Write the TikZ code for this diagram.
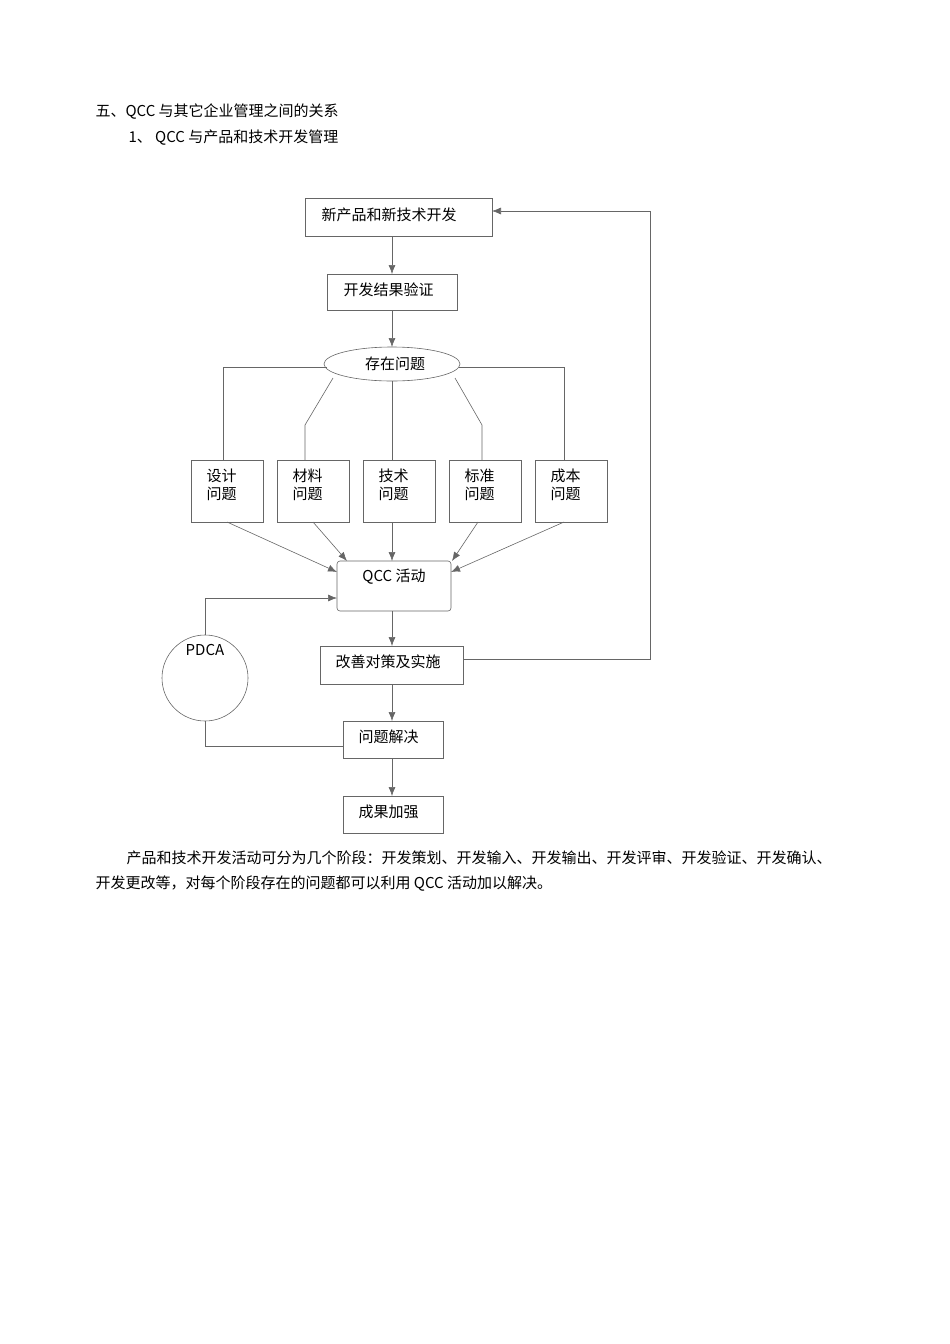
\documentclass[tikz,border=0pt]{standalone}
\usepackage{fontspec}
\setmainfont{Liberation Serif}
\newfontfamily\cjk{Noto Sans CJK SC}
\usetikzlibrary{arrows.meta,shapes.geometric}
\begin{document}
\begin{tikzpicture}[x=1pt,y=-1pt,
  every node/.style={font=\cjk\fontsize{15}{18}\selectfont},
  bx/.style={draw=black!60,line width=0.6pt,inner sep=0pt},
  ln/.style={draw=black!60,line width=0.6pt},
  ar/.style={ln,-{Latex[length=9pt,width=7pt]},shorten >=0pt}]
\useasboundingbox (0,0) rectangle (950,1344);
\node[anchor=west] (h1) at (92,112) {五、QCC 与其它企业管理之间的关系};
\node[anchor=west] (h2) at (125,138) {1、 QCC 与产品和技术开发管理};
% boxes
\draw[ln] (305,198) rectangle (492,236); \coordinate (b1) at (398,236); \coordinate (b1r) at (492,211);
\node[anchor=west] (t1) at (318,215) {新产品和新技术开发};
\draw[ln] (327,274) rectangle (457,310);
\node[anchor=west] (t2) at (340,290) {开发结果验证};
\node[bx,ellipse,minimum width=136pt,minimum height=34pt] (e) at (392,364) {};
\node (te) at (395,364) {存在问题};
\draw[ar] (392,236) -- (392,274);
\draw[ar] (392,310) -- (392,347);
\foreach \x/\a/\b in {191/设计/s1,277/材料/s2,363/技术/s3,449/标准/s4,535/成本/s5}{
  \draw[ln] (\x,460) rectangle ++(72,62);
  \node[anchor=west] at (\x+12,476) {\a};
  \node[anchor=west] at (\x+12,494) {问题};
}
\draw[ln] (327,367) -- (223,367) -- (223,460);
\draw[ln] (333,378) -- (305,425) -- (305,460);
\draw[ln] (392,381) -- (392,460);
\draw[ln] (455,378) -- (482,425) -- (482,460);
\draw[ln] (459,367) -- (564,367) -- (564,460);
\draw[ln,rounded corners=3pt] (337,561) rectangle (451,611);
\node (tq) at (394,577) {QCC 活动};
\draw[ar] (227,522) -- (337,572);
\draw[ar] (313,522) -- (347,561);
\draw[ar] (392,522) -- (392,561);
\draw[ar] (478,522) -- (452,561);
\draw[ar] (564,522) -- (451,572);
\draw[ln] (320,646) rectangle (463,684);
\node[anchor=west] (t5) at (332,662) {改善对策及实施};
\draw[ar] (392,611) -- (392,646);
\draw[ar] (463,659) -- (650,659) -- (650,211) -- (492,211);
\draw[ln] (205,678) circle (43);
\node (pd) at (205,650) {PDCA};
\draw[ar] (205,635) -- (205,598) -- (337,598);
\draw[ln] (343,721) rectangle (443,758);
\node[anchor=west] (t6) at (355,737) {问题解决};
\draw[ar] (392,684) -- (392,721);
\draw[ln] (205,721) -- (205,746) -- (343,746);
\draw[ln] (343,796) rectangle (443,833);
\node[anchor=west] (t7) at (355,812) {成果加强};
\draw[ar] (392,758) -- (392,796);
\node[anchor=west] (p1) at (123,858) {产品和技术开发活动可分为几个阶段：开发策划、开发输入、开发输出、开发评审、开发验证、开发确认、};
\node[anchor=west] (p2) at (92,884) {开发更改等，对每个阶段存在的问题都可以利用 QCC 活动加以解决。};
\end{tikzpicture}
\end{document}
